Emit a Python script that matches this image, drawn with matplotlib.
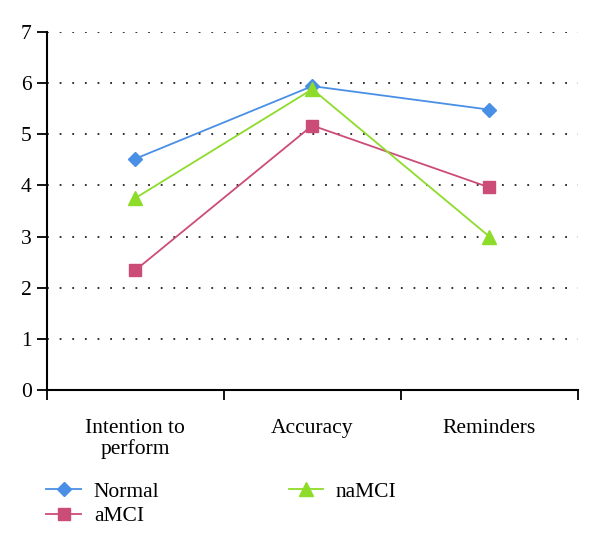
import matplotlib.pyplot as plt
from matplotlib.ticker import FixedLocator, NullFormatter

categories = ["Intention to\nperform", "Accuracy", "Reminders"]
normal = [4.52, 5.94, 5.48]
amci = [2.34, 5.17, 3.96]
namci = [3.75, 5.88, 3.0]

plt.rcParams['font.family'] = ['Liberation Serif', 'DejaVu Serif']

fig = plt.figure(figsize=(6, 5.5), dpi=100)
ax = fig.add_axes([0.078, 0.291, 0.885, 0.651])

x = [i + 0.5 for i in range(len(categories))]
ax.plot(x, normal, color="#4a8fe6", marker="D", markersize=7, linewidth=1.3, label="Normal")
ax.plot(x, amci, color="#cc4c78", marker="s", markersize=9, linewidth=1.3, label="aMCI")
ax.plot(x, namci, color="#8edc2a", marker="^", markersize=10, linewidth=1.3, label="naMCI")

ax.set_xlim(0, 3)
ax.set_ylim(0, 7)
ax.set_yticks(range(0, 8))
ax.xaxis.set_major_locator(FixedLocator([0, 1, 2, 3]))
ax.xaxis.set_major_formatter(NullFormatter())
ax.xaxis.set_minor_locator(FixedLocator(x))
ax.set_xticklabels(categories, minor=True, linespacing=1.05)
ax.tick_params(axis="x", which="minor", length=0, labelsize=15.5, pad=21)
ax.tick_params(axis="x", which="major", length=7, width=1.3, direction="out")
ax.tick_params(axis="y", length=7, width=1.3, direction="out", labelsize=15.5, pad=4)

ax.yaxis.grid(True, linestyle=(0, (1, 6)), color="#222222", linewidth=1.3)
ax.set_axisbelow(True)
for s in ["top", "right"]:
    ax.spines[s].set_visible(False)
for s in ["left", "bottom"]:
    ax.spines[s].set_linewidth(1.5)

fig.legend(loc="upper left", bbox_to_anchor=(0.063, 0.14), ncol=2, frameon=False,
           fontsize=15.5, handlelength=1.6, handletextpad=0.6, columnspacing=6.0,
           labelspacing=0.2, borderaxespad=0)

fig.savefig("out.png", dpi=100)
